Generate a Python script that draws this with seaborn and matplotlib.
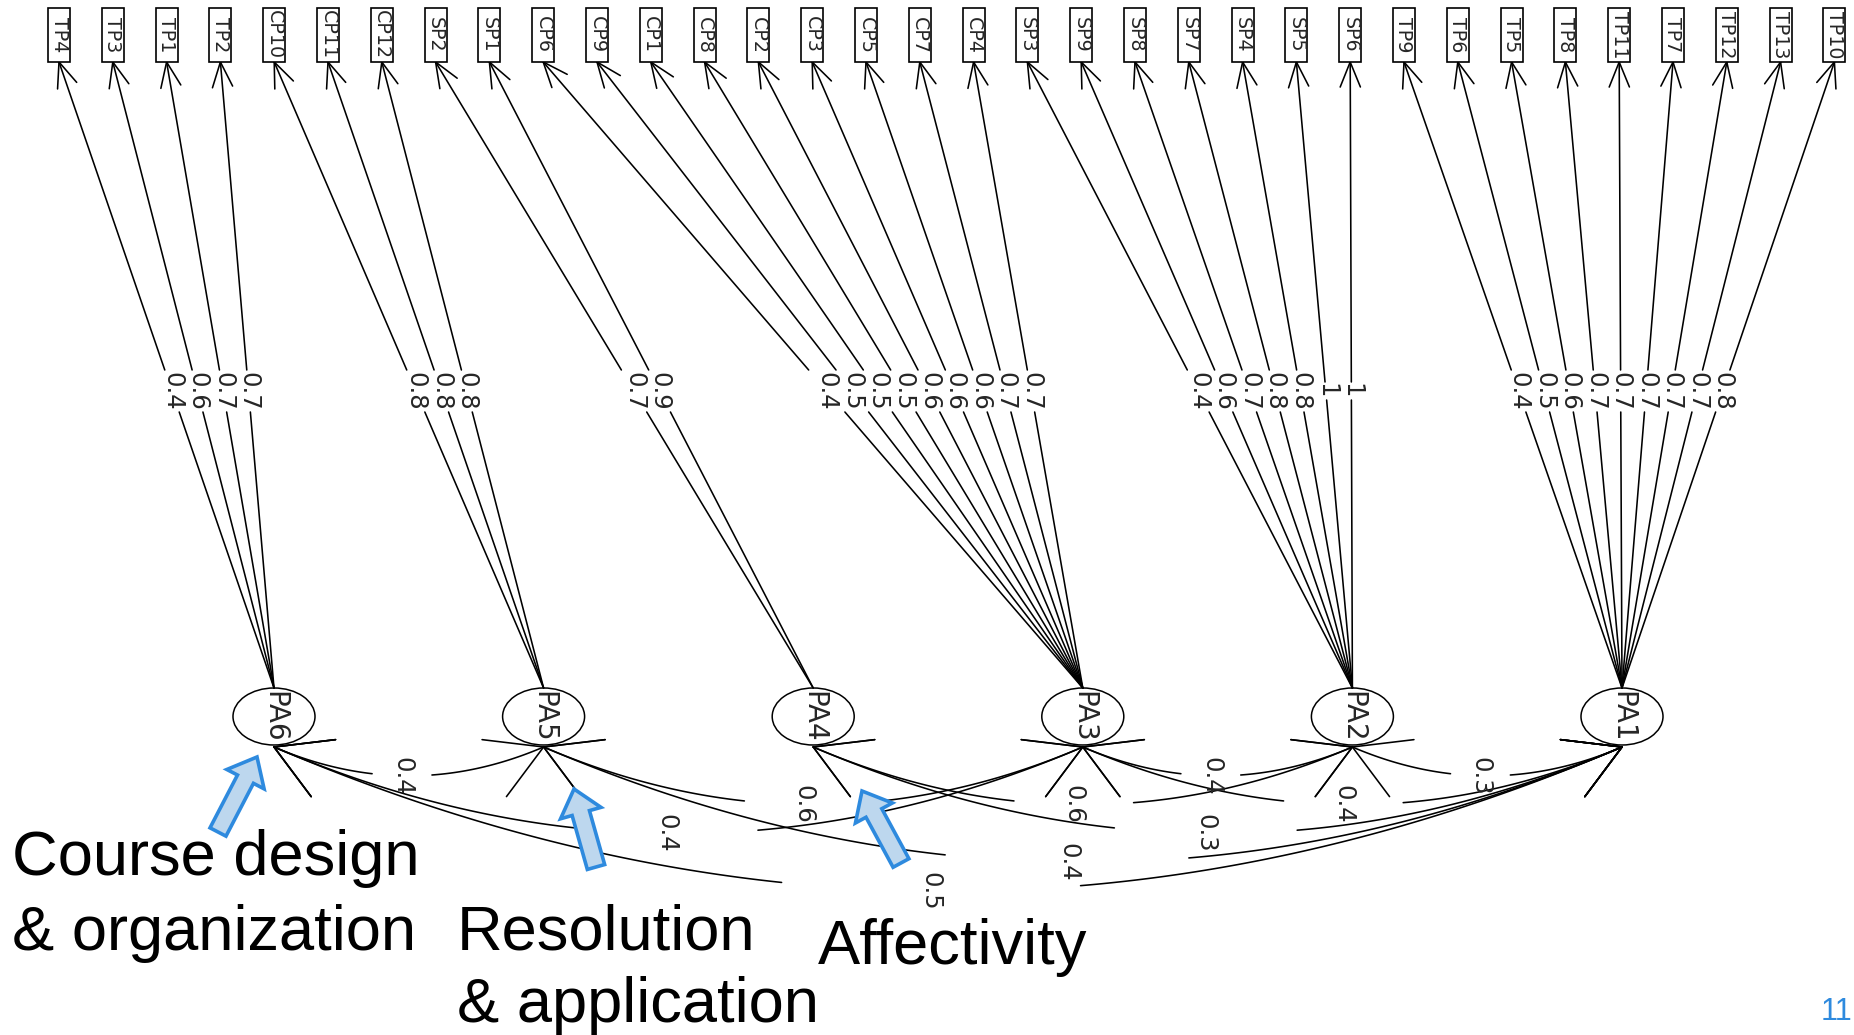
import numpy as np
import pandas as pd
import matplotlib.pyplot as plt
import seaborn as sns
from matplotlib.patches import Ellipse, Rectangle, FancyArrow

# observed variables, left to right, with their factor and loading
items = ["TP4", "TP3", "TP1", "TP2", "CP10", "CP11", "CP12", "SP2", "SP1",
         "CP6", "CP9", "CP1", "CP8", "CP2", "CP3", "CP5", "CP7", "CP4",
         "SP3", "SP9", "SP8", "SP7", "SP4", "SP5", "SP6",
         "TP9", "TP6", "TP5", "TP8", "TP11", "TP7", "TP12", "TP13", "TP10"]
item_factor = ["PA6"] * 4 + ["PA5"] * 3 + ["PA4"] * 2 + ["PA3"] * 9 + ["PA2"] * 7 + ["PA1"] * 9
loadings = [0.4, 0.6, 0.7, 0.7,
            0.8, 0.8, 0.8,
            0.7, 0.9,
            0.4, 0.5, 0.5, 0.5, 0.6, 0.6, 0.6, 0.7, 0.7,
            0.4, 0.6, 0.7, 0.8, 0.8, 1, 1,
            0.4, 0.5, 0.6, 0.7, 0.7, 0.7, 0.7, 0.7, 0.8]

factors = ["PA6", "PA5", "PA4", "PA3", "PA2", "PA1"]
corr_from = ["PA6", "PA6", "PA6", "PA5", "PA5", "PA4", "PA4", "PA3", "PA3", "PA2"]
corr_to = ["PA5", "PA3", "PA1", "PA3", "PA1", "PA2", "PA1", "PA2", "PA1", "PA1"]
corr_vals = [0.4, 0.4, 0.5, 0.6, 0.4, 0.6, 0.3, 0.4, 0.4, 0.3]

notes = ["Course design\n& organization", "Resolution\n& application", "Affectivity"]

W, H = 1854, 1035
sns.set_theme(style="white")
plt.rcParams['font.family'] = ['DejaVu Sans']

fig = plt.figure(figsize=(W / 100, H / 100), dpi=100)
ax = fig.add_axes([0, 0, 1, 1])

item_x = {name: 59 + 53.8 * i for i, name in enumerate(items)}
fac_x = {f: 274 + 269.6 * k for k, f in enumerate(factors)}
box_top, box_bot = 8, 62
fac_y, fac_top, fac_bot = 716.5, 688, 747
lab_y = 391


def rot(v, a):
    c, s = np.cos(a), np.sin(a)
    return np.array([c * v[0] - s * v[1], s * v[0] + c * v[1]])


rows = []
seg = 0


def add(xs, ys):
    global seg
    for x, y in zip(xs, ys):
        rows.append({"seg": seg, "x": x, "y": y})
    seg += 1


def barbs(tip, back, length, ang):
    back = back / np.hypot(*back)
    for a in (ang, -ang):
        p = tip + length * rot(back, a)
        add([tip[0], p[0]], [tip[1], p[1]])


# loading arrows
labels_load = []
for name, f, v in zip(items, item_factor, loadings):
    p0 = np.array([fac_x[f], fac_top])
    p1 = np.array([item_x[name], box_bot])
    txt = f"{v:g}"
    half = 21 if len(txt) > 1 else 9
    ta = (p0[1] - (lab_y + half)) / (p0[1] - p1[1])
    tb = (p0[1] - (lab_y - half)) / (p0[1] - p1[1])
    q1 = p0 + ta * (p1 - p0)
    q2 = p0 + tb * (p1 - p0)
    add([p0[0], q1[0]], [p0[1], q1[1]])
    add([q2[0], p1[0]], [q2[1], p1[1]])
    barbs(p1, p0 - p1, 27, np.radians(22))
    tm = (p0[1] - lab_y) / (p0[1] - p1[1])
    labels_load.append((p0[0] + tm * (p1[0] - p0[0]), txt))

# factor correlation curves
labels_corr = []
for a, b, v in zip(corr_from, corr_to, corr_vals):
    x1, x2 = fac_x[a], fac_x[b]
    L = x2 - x1
    D = 0.107 * L
    off = 4 + 0.01 * L
    s = off / L
    u = np.linspace(0, 1, 240)
    x = x1 + L * u
    y = fac_bot + 4 * D * u * (1 - u)
    m1 = u <= 0.39 - s
    m2 = u >= 0.61 - s
    add(x[m1], y[m1])
    add(x[m2], y[m2])
    barbs(np.array([x1, fac_bot]), np.array([L, 4 * D]), 62, np.radians(30))
    barbs(np.array([x2, fac_bot]), np.array([-L, 4 * D]), 62, np.radians(30))
    labels_corr.append((x1 + L / 2 - off, fac_bot + D, f"{v:g}"))

df = pd.DataFrame(rows)
sns.lineplot(data=df, x="x", y="y", units="seg", estimator=None, sort=False,
             color="black", linewidth=1.15, legend=False, ax=ax)

for name in items:
    bx = item_x[name]
    ax.add_patch(Rectangle((bx - 11, box_top), 22, box_bot - box_top,
                           fc="white", ec="black", lw=1.2, zorder=3))
    ax.text(bx, (box_top + box_bot) / 2, name, rotation=-90, ha="center",
            va="center", fontsize=13.7, zorder=4)

for x, txt in labels_load:
    ax.text(x, lab_y, txt, rotation=-90, ha="center", va="center", fontsize=17.5, zorder=4)

for x, y, txt in labels_corr:
    ax.text(x, y, txt, rotation=-90, ha="center", va="center", fontsize=17.5, zorder=4)

for f in factors:
    ax.add_patch(Ellipse((fac_x[f], fac_y), 82, 57, fc="none", ec="black", lw=1.1, zorder=3))
    ax.text(fac_x[f], fac_y, f, rotation=-90, ha="center", va="center", fontsize=20, zorder=4)

# callout arrows and captions
for (tx, ty), (hx, hy) in [((218, 832), (257, 757)), ((596, 867), (574, 789)), ((901, 863), (862, 791))]:
    ax.add_patch(FancyArrow(tx, ty, hx - tx, hy - ty, width=18, head_width=42, head_length=25,
                            length_includes_head=True, fc="#BDD7EE", ec="#2E8ADE", lw=2.6,
                            joinstyle="miter", zorder=5))

cap = dict(family=["Liberation Sans", "DejaVu Sans"], fontsize=45.5, color="black",
           ha="left", va="baseline", zorder=6)
ax.text(12, 875, notes[0].split("\n")[0], **cap)
ax.text(12, 950, notes[0].split("\n")[1], **cap)
ax.text(457, 950, notes[1].split("\n")[0], **cap)
ax.text(457, 1022, notes[1].split("\n")[1], **cap)
ax.text(818, 964, notes[2], **cap)
ax.text(1852, 1020, "11", family=["Liberation Sans"], fontsize=22, color="#2E8ADE",
        ha="right", va="baseline")

ax.set_xlim(0, W)
ax.set_ylim(H, 0)
ax.axis("off")
fig.savefig("out.png", dpi=100, facecolor="white")
